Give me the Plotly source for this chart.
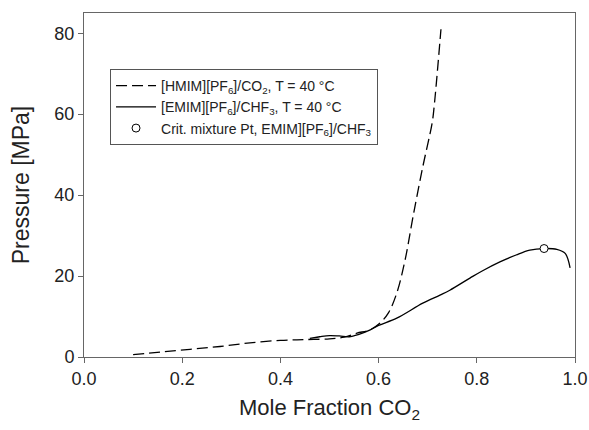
import plotly.graph_objects as go

# [HMIM][PF6]/CO2, T = 40 C (dashed)
hmim_x = [0.10, 0.155, 0.216, 0.277, 0.338, 0.40, 0.45, 0.50, 0.53, 0.556, 0.582, 0.603, 0.62, 0.637,
          0.654, 0.67, 0.69, 0.709, 0.713, 0.727]
hmim_y = [0.6, 1.2, 1.9, 2.6, 3.5, 4.1, 4.3, 4.5, 4.9, 5.9, 6.7, 8.4, 10.9, 15.8,
          24.0, 34.6, 47.0, 57.8, 61.7, 81.0]

# [EMIM][PF6]/CHF3, T = 40 C (solid)
emim_x = [0.46, 0.48, 0.50, 0.52, 0.54, 0.56, 0.583, 0.60, 0.637, 0.69, 0.725, 0.745, 0.786, 0.81,
          0.847, 0.88, 0.908, 0.937, 0.963, 0.98, 0.99]
emim_y = [4.6, 5.0, 5.3, 5.2, 5.0, 5.6, 6.7, 7.8, 9.6, 13.3, 15.3, 16.5, 19.5, 21.2,
          23.5, 25.2, 26.4, 26.8, 26.6, 25.6, 22.0]

# critical mixture point
crit_x = [0.937]
crit_y = [26.8]

fig = go.Figure()
fig.add_trace(go.Scatter(x=hmim_x, y=hmim_y, mode="lines", line=dict(color="black", width=1.3, dash="11px,5px"),
                         line_shape="spline", name="[HMIM][PF<sub>6</sub>]/CO<sub>2</sub>, T = 40 °C"))
fig.add_trace(go.Scatter(x=emim_x, y=emim_y, mode="lines", line=dict(color="black", width=1.3),
                         line_shape="spline", name="[EMIM][PF<sub>6</sub>]/CHF<sub>3</sub>, T = 40 °C"))
fig.add_trace(go.Scatter(x=crit_x, y=crit_y, mode="markers",
                         marker=dict(symbol="circle", size=8, color="white", line=dict(color="black", width=1)),
                         name="Crit. mixture Pt, EMIM][PF<sub>6</sub>]/CHF<sub>3</sub>"))

axis_font = dict(family="Liberation Sans, Arial, sans-serif", size=18, color="#222")
fig.update_layout(
    width=589, height=430,
    margin=dict(l=84, r=14, t=13, b=73),
    plot_bgcolor="white", paper_bgcolor="white",
    font=dict(family="Liberation Sans, Arial, sans-serif", color="#222"),
    showlegend=True,
    legend=dict(x=0.053, y=0.837, xanchor="left", yanchor="top",
                bordercolor="#555", borderwidth=1, bgcolor="white",
                font=dict(size=14, color="#222"), tracegroupgap=0, itemwidth=40),
)
fig.update_xaxes(range=[0, 1.0], tickvals=[0, 0.2, 0.4, 0.6, 0.8, 1.0], ticktext=["0.0", "0.2", "0.4", "0.6", "0.8", "1.0"],
                 showgrid=False, zeroline=False, showline=True, linecolor="#666", linewidth=1, mirror=True,
                 ticks="outside", ticklen=5, tickcolor="#666", tickfont=axis_font, automargin=False,
                 title=dict(text="Mole Fraction CO<sub>2</sub>", font=dict(size=22), standoff=12))
fig.update_yaxes(range=[0, 85], tickvals=[0, 20, 40, 60, 80],
                 showgrid=False, zeroline=False, showline=True, linecolor="#666", linewidth=1, mirror=True,
                 ticks="outside", ticklen=5, tickcolor="#666", tickfont=axis_font, automargin=False,
                 title=dict(text="Pressure [MPa]", font=dict(size=23), standoff=18))

# drop the default body margin so the figure fills the window
fig.write_html("out.html", config={"displayModeBar": False},
               post_script="document.body.style.margin='0';")
